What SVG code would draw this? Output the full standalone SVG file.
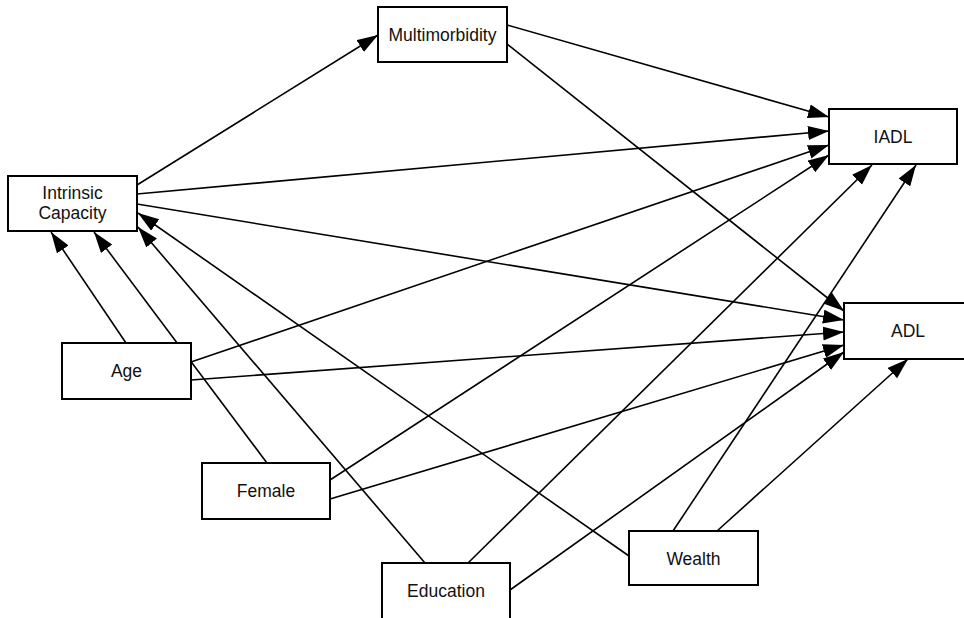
<svg xmlns="http://www.w3.org/2000/svg" width="964" height="618" viewBox="0 0 964 618">
<style>
.box{fill:#fff;stroke:#000;stroke-width:2}
.lbl{font-family:"Liberation Sans",Arial,sans-serif;font-size:17.5px;fill:#111;text-anchor:middle}
.e{stroke:#000;stroke-width:1.6;fill:none;marker-end:url(#ah)}
</style>
<defs>
<marker id="ah" markerUnits="userSpaceOnUse" markerWidth="22" markerHeight="15" refX="21" refY="7" orient="auto">
<path d="M0,0 L21,7 L0,14 z" fill="#000"/>
</marker>
</defs>
<rect width="964" height="618" fill="#fff"/>
<g id="connectors">
<line class="e" x1="137" y1="185" x2="378" y2="35"/>
<line class="e" x1="137" y1="194" x2="829" y2="131"/>
<line class="e" x1="137" y1="204" x2="844" y2="320"/>
<line class="e" x1="507" y1="25" x2="829" y2="117"/>
<line class="e" x1="507" y1="44" x2="844" y2="311"/>
<line class="e" x1="126" y1="343" x2="51" y2="232"/>
<line class="e" x1="191" y1="362" x2="829" y2="145"/>
<line class="e" x1="191" y1="380" x2="844" y2="332"/>
<line class="e" x1="267" y1="463" x2="94" y2="232"/>
<line class="e" x1="330" y1="480" x2="829" y2="155"/>
<line class="e" x1="330" y1="499" x2="844" y2="345"/>
<line class="e" x1="425" y1="563" x2="138" y2="227"/>
<line class="e" x1="468" y1="563" x2="872" y2="165"/>
<line class="e" x1="510" y1="590" x2="844" y2="352"/>
<line class="e" x1="629" y1="556" x2="138" y2="213"/>
<line class="e" x1="673" y1="531" x2="916" y2="165"/>
<line class="e" x1="717" y1="531" x2="908" y2="359"/>
</g>
<g id="intrinsic">
<rect class="box" x="8" y="176" width="129" height="55"/>
<text class="lbl" x="72.5" y="199">Intrinsic</text>
<text class="lbl" x="72.5" y="219">Capacity</text>
</g>
<g id="multimorbidity">
<rect class="box" x="378" y="7" width="129" height="55"/>
<text class="lbl" x="442.5" y="40.5">Multimorbidity</text>
</g>
<g id="iadl">
<rect class="box" x="829" y="109" width="128" height="55"/>
<text class="lbl" x="893" y="143">IADL</text>
</g>
<g id="adl">
<rect class="box" x="844" y="303" width="128" height="56"/>
<text class="lbl" x="908" y="337">ADL</text>
</g>
<g id="age">
<rect class="box" x="62" y="343" width="129" height="56"/>
<text class="lbl" x="126.5" y="377">Age</text>
</g>
<g id="female">
<rect class="box" x="202" y="463" width="128" height="56"/>
<text class="lbl" x="266" y="497">Female</text>
</g>
<g id="education">
<rect class="box" x="382" y="563" width="128" height="56"/>
<text class="lbl" x="446" y="597">Education</text>
</g>
<g id="wealth">
<rect class="box" x="629" y="531" width="129" height="54"/>
<text class="lbl" x="693.5" y="565">Wealth</text>
</g>
</svg>
